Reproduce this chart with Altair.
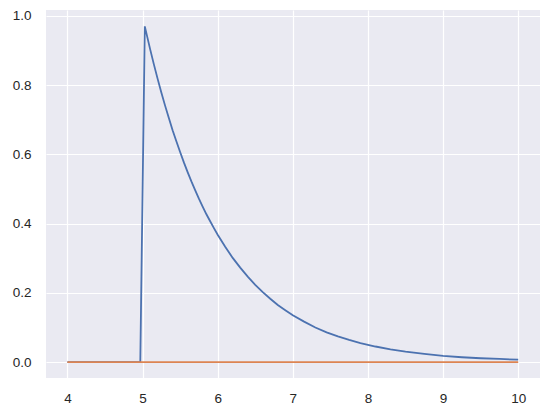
import altair as alt
import pandas as pd

# Blue series
blue_x = [4.0, 4.97, 5.03, 5.1, 5.15, 5.2, 5.25, 5.3, 5.35, 5.4, 5.45, 5.5, 5.55, 5.6,
          5.65, 5.7, 5.75, 5.8, 5.85, 5.9, 5.95, 6.0, 6.1, 6.2, 6.3, 6.4, 6.5, 6.6,
          6.7, 6.8, 6.9, 7.0, 7.15, 7.3, 7.45, 7.6, 7.75, 7.9, 8.1, 8.3, 8.5, 8.75,
          9.0, 9.25, 9.5, 9.75, 10.0]
blue_y = [0.0, 0.0, 0.970, 0.905, 0.861, 0.819, 0.779, 0.741, 0.705, 0.670, 0.638, 0.607,
          0.577, 0.549, 0.522, 0.497, 0.472, 0.449, 0.427, 0.407, 0.387, 0.368, 0.333,
          0.301, 0.273, 0.247, 0.223, 0.202, 0.183, 0.165, 0.150, 0.135, 0.117, 0.100,
          0.086, 0.074, 0.064, 0.055, 0.045, 0.037, 0.030, 0.024, 0.018, 0.014, 0.011,
          0.009, 0.007]

# Orange series
orange_x = [4.0, 10.0]
orange_y = [0.0, 0.0]

x_ticks = [4, 5, 6, 7, 8, 9, 10]
y_ticks = [0.0, 0.2, 0.4, 0.6, 0.8, 1.0]

df = pd.concat([
    pd.DataFrame({"x": blue_x, "y": blue_y, "s": "a", "o": range(len(blue_x))}),
    pd.DataFrame({"x": orange_x, "y": orange_y, "s": "b", "o": range(len(orange_x))}),
])

chart = alt.Chart(df).mark_line(strokeWidth=1.8, clip=True).encode(
    x=alt.X("x:Q", scale=alt.Scale(domain=[3.715, 10.29], nice=False, zero=False),
            axis=alt.Axis(values=x_ticks, format="d", title=None, labelPadding=13)),
    y=alt.Y("y:Q", scale=alt.Scale(domain=[-0.046, 1.0173], nice=False, zero=False),
            axis=alt.Axis(values=y_ticks, format=".1f", title=None, labelPadding=15)),
    color=alt.Color("s:N", scale=alt.Scale(domain=["a", "b"], range=["#4C72B0", "#DD8452"]),
                    legend=None),
    order="o:Q",
).properties(
    width=494, height=368,
    background="white",
    autosize=alt.AutoSizeParams(type="none"),
    padding={"left": 38, "top": 2, "right": 2, "bottom": 30},
).configure_view(
    fill="#EAEAF2", stroke=None
).configure_axis(
    domain=False, ticks=False, grid=True, gridColor="white", gridWidth=1.2,
    labelFont="Liberation Sans", labelFontSize=13.5, labelColor="#262626",
)

chart.save("out.html", embed_options={"renderer": "svg", "actions": False})
